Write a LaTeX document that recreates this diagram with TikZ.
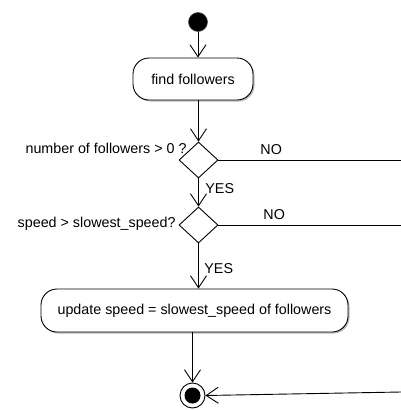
\documentclass[tikz,border=0pt]{standalone}
\usepackage{fontspec}
\setmainfont{Liberation Sans}
\usetikzlibrary{arrows.meta,shapes.geometric,shadows}
\begin{document}
\begin{tikzpicture}[x=1pt,y=-1pt,
  font=\fontsize{14.3}{16}\selectfont,
  line width=0.9pt,
  arr/.style={-{Straight Barb[length=12pt,width=16pt,line width=0.9pt]}},
  act/.style={draw, rounded corners=16pt, fill=white, inner sep=0pt,
    drop shadow={shadow xshift=1.5pt,shadow yshift=-1.5pt,fill=gray!55,opacity=1}},
  dec/.style={diamond, draw, fill=white, inner sep=0pt, minimum width=39pt, minimum height=36pt},
  lbl/.style={inner sep=0pt},
]
\useasboundingbox (0,0) rectangle (401,410);
% nodes
\node[circle, fill=black, draw=black!70, line width=0.6pt, minimum size=19pt, inner sep=0pt] (start) at (198,22) {};
\node[act, minimum width=120pt, minimum height=42pt] (find) at (193,79) {find followers};
\node[dec] (d1) at (198.5,160) {};
\node[dec] (d2) at (198.5,225) {};
\node[act, minimum width=307pt, minimum height=43pt] (upd) at (194.5,310.5) {update speed = slowest\_speed of followers};
\node[circle, draw, fill=white, minimum size=25pt, inner sep=0pt] (end) at (192.5,395.5) {};
\fill[black] (end.center) circle (8pt);
% labels
\node[lbl, anchor=base east] (q1) at (187,153) {number of followers > 0 ?};
\node[lbl, anchor=base west] (no1) at (260,154) {NO};
\node[lbl, anchor=base west] (yes1) at (205,193) {YES};
\node[lbl, anchor=base east] (q2) at (176,227) {speed > slowest\_speed?};
\node[lbl, anchor=base west] (no2) at (263,219) {NO};
\node[lbl, anchor=base west] (yes2) at (204,273) {YES};
% free ends
\coordinate (o1) at (401,160);
\coordinate (o2) at (401,225);
\coordinate (in) at (401,392);
% connectors
\draw[arr] (start.south) -- (start.south |- find.north);
\draw[arr] (d1 |- find.south) -- (d1.north);
\draw (d1.east) -- (o1);
\draw[arr] (d1.south) -- (d2.north);
\draw (d2.east) -- (o2);
\draw[arr] (d2.south) -- (d2.south |- upd.north);
\draw[arr] (end |- upd.south) -- (end.north);
\draw[arr] (in) -- (end.east);
\end{tikzpicture}
\end{document}
